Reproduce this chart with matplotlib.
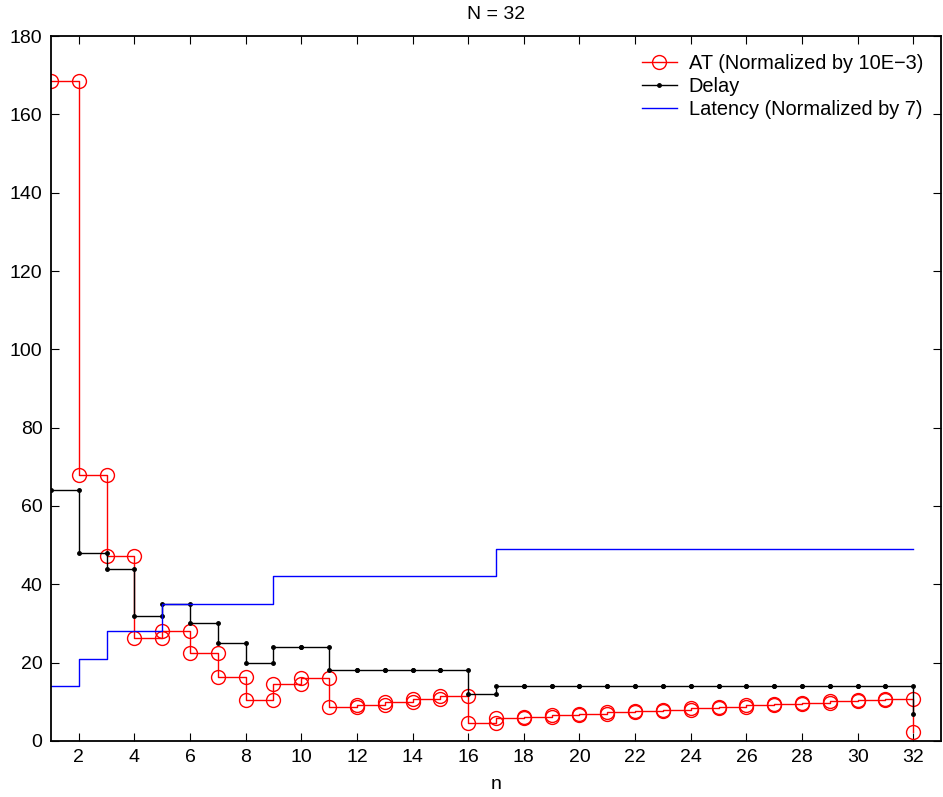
import numpy as np
import matplotlib.pyplot as plt

plt.rcParams['font.family'] = ['Liberation Sans', 'DejaVu Sans']

# datos
n = np.arange(1, 33)
at_norm = [168.5, 68.0, 47.2, 26.2, 28.0, 22.5, 16.4, 10.5, 14.5, 16.0,
           8.7, 9.3, 9.9, 10.6, 11.4, 4.7, 5.8, 6.2, 6.6, 7.0,
           7.3, 7.7, 8.0, 8.3, 8.7, 9.1, 9.4, 9.8, 10.1, 10.4,
           10.8, 2.4]
delay = [64, 48, 44, 32, 35, 30, 25, 20, 24, 24,
         18, 18, 18, 18, 18, 12] + [14] * 15 + [7]
latency = [14, 21, 28, 28] + [35] * 4 + [42] * 8 + [49] * 16


def stairs_xy(x, y):
    # escalera tipo matlab: un vertice en cada esquina
    x = np.asarray(x, dtype=float)
    y = np.asarray(y, dtype=float)
    xs = np.repeat(x, 2)[1:]
    ys = np.repeat(y, 2)[:-1]
    return xs, ys


fs = 14

fig = plt.figure(figsize=(9.43, 7.97), dpi=100)
ax = fig.add_axes([0.054, 0.0703, 0.944, 0.8845])

xs, ys = stairs_xy(n, at_norm)
ax.plot(xs, ys, color='red', lw=1, marker='o', ms=10, mfc='none',
        mew=1, label='AT (Normalized by 10E\u22123)')
xs, ys = stairs_xy(n, delay)
ax.plot(xs, ys, color='black', lw=1, marker='.', ms=5,
        label='Delay')
xs, ys = stairs_xy(n, latency)
ax.plot(xs, ys, color='blue', lw=1, label='Latency (Normalized by 7)')

ax.set_xlim(1, 33)
ax.set_ylim(0, 180)
ax.set_xticks(np.arange(2, 33, 2))
ax.set_yticks(np.arange(0, 181, 20))
ax.tick_params(direction='in', top=True, right=True, length=6,
               labelsize=fs, width=0.8)
ax.tick_params(axis='x', pad=6)
ax.tick_params(axis='y', pad=6)
for s in ax.spines.values():
    s.set_linewidth(1.3)

ax.set_title('N = 32', fontsize=fs, pad=12)
ax.set_xlabel('n', fontsize=fs, labelpad=7)
ax.legend(loc='upper right', frameon=False, fontsize=14.4,
          handlelength=1.75, handletextpad=0.6, labelspacing=0.2,
          borderaxespad=0.5)

plt.savefig('out.png', dpi=100)
